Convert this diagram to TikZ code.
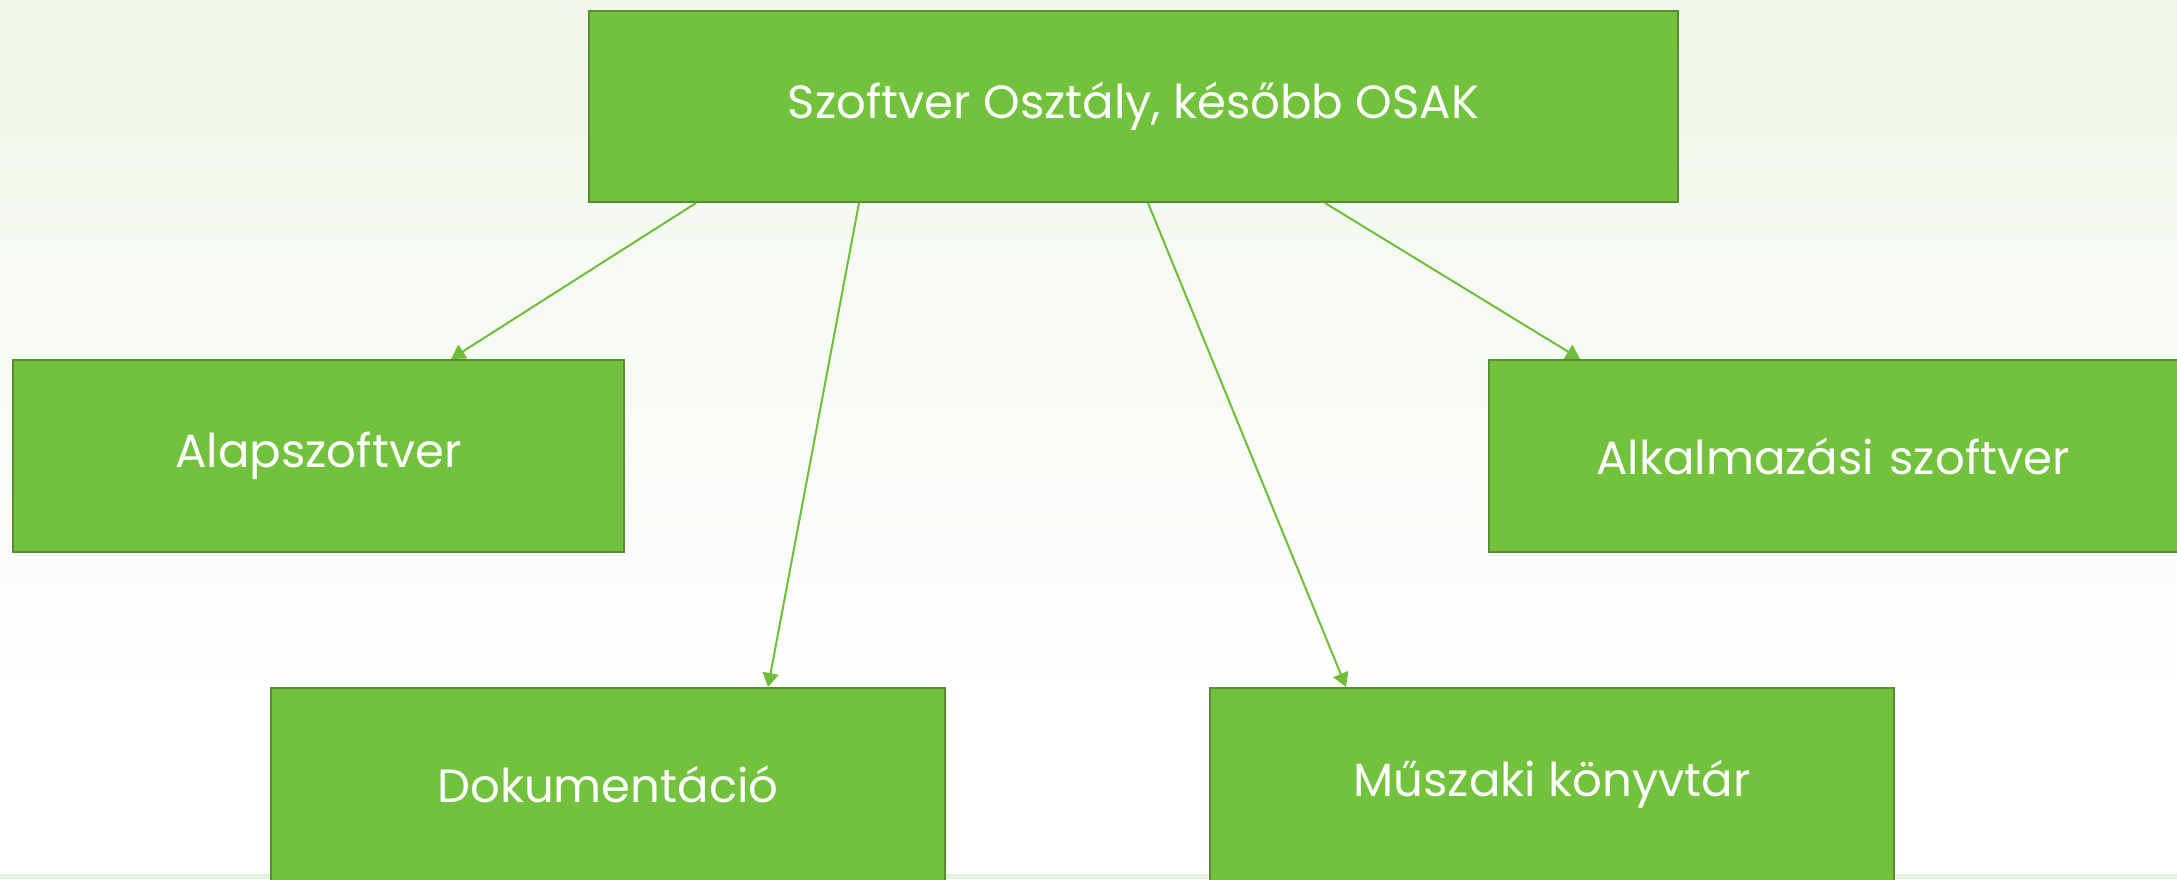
\documentclass[tikz,border=0pt]{standalone}
\usepackage{fontspec}
\setmainfont{Poppins}
\usetikzlibrary{arrows.meta,calc,backgrounds}
\definecolor{bgtop}{HTML}{F0F7EB}
\definecolor{boxfill}{HTML}{73C23D}
\definecolor{boxline}{HTML}{578F30}
\definecolor{arrowc}{HTML}{6EBE3A}
\definecolor{strip}{HTML}{E6F4DE}
\newcommand{\lbl}[1]{\raisebox{-2pt}{#1}}
\tikzset{
  box/.style={draw=boxline, fill=boxfill, line width=1pt, inner sep=0pt,
    anchor=north west, text=white, font=\fontsize{23.3}{28}\selectfont},
  conn/.style={draw=arrowc, line width=1pt, -{Triangle[length=7pt,width=8pt]}}
}
\begin{document}
\begin{tikzpicture}[x=0.5pt,y=-0.5pt]
\useasboundingbox (0,0) rectangle (2177,879);
\clip (0,0) rectangle (2177,879);
\shade[top color=bgtop, bottom color=white] (0,0) rectangle (2177,720);
\fill[white] (0,720) rectangle (2177,879);
\fill[strip] (0,874) rectangle (2177,879);
\node[box, minimum width=544.5pt, minimum height=95.5pt] (top) at (588,10) {\lbl{Szoftver Osztály, később OSAK}};
\node[box, minimum width=305.5pt, minimum height=96pt] (alap) at (12,359) {\lbl{Alapszoftver}};
\node[box, minimum width=356pt, minimum height=96pt, text width=356pt, align=center] (alk) at (1488,359) {\hspace*{-6pt}\lbl{Alkalmazási szoftver}\hspace*{6pt}};
\node[box, minimum width=337pt, minimum height=96.5pt] (dok) at (270,687) {\lbl{Dokumentáció}};
\node[box, minimum width=342pt, minimum height=96.5pt] (musz) at (1209,687) {\lbl{Műszaki könyvtár}};
\draw[conn] ($(top.south west)+(108,0)$) -- ($(alap.north west)+(439,0)$);
\draw[conn] ($(top.south west)+(271,0)$) -- ($(dok.north west)+(498,0)$);
\draw[conn] ($(top.south west)+(560,0)$) -- ($(musz.north west)+(137,0)$);
\draw[conn] ($(top.south west)+(737,0)$) -- ($(alk.north west)+(92,0)$);
\end{tikzpicture}
\end{document}
